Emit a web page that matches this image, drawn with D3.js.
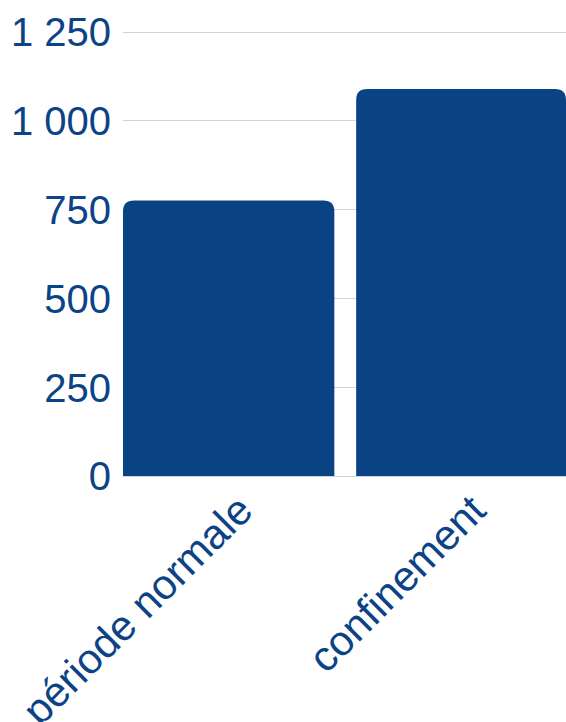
<!DOCTYPE html>
<html>
<head>
<meta charset="utf-8">
<script src="https://cdn.jsdelivr.net/npm/d3@7"></script>
<style>
  html, body { margin: 0; padding: 0; background: #ffffff; }
  svg { display: block; }
  text { font-family: "Liberation Sans", Arial, sans-serif; fill: #0b4386; }
</style>
</head>
<body>
<svg id="chart" width="566" height="722"></svg>
<script>
const categories = ["période normale", "confinement"];
const values = [775, 1088];
const yTicks = [0, 250, 500, 750, 1000, 1250];

const W = 566, H = 722;
const margin = { left: 123, right: 0, top: 31.5, bottom: 246 };
const svg = d3.select("#chart");

const x = d3.scaleBand().domain(categories)
  .range([margin.left, W - margin.right])
  .paddingInner(0.1).paddingOuter(0);
const y = d3.scaleLinear().domain([0, 1250]).range([H - margin.bottom, margin.top]);

// gridlines
svg.append("g").selectAll("line").data(yTicks).join("line")
  .attr("x1", margin.left).attr("x2", W)
  .attr("y1", d => Math.round(y(d)) + 0.5).attr("y2", d => Math.round(y(d)) + 0.5)
  .attr("stroke", "#ccd6e3").attr("stroke-width", 1.2);

// y labels
svg.append("g").selectAll("text").data(yTicks).join("text")
  .attr("x", 111).attr("y", d => y(d))
  .attr("dy", "0.36em")
  .attr("text-anchor", "end")
  .attr("font-size", 40)
  .text(d => d >= 1000 ? Math.floor(d/1000) + " " + String(d % 1000).padStart(3, "0") : String(d));

// bars with rounded top corners
const r = 11;
function barPath(x0, w, yTop, yBase) {
  return `M${x0},${yBase} L${x0},${yTop + r} Q${x0},${yTop} ${x0 + r},${yTop} L${x0 + w - r},${yTop} Q${x0 + w},${yTop} ${x0 + w},${yTop + r} L${x0 + w},${yBase} Z`;
}
svg.append("g").selectAll("path").data(categories).join("path")
  .attr("d", (c, i) => barPath(x(c), x.bandwidth() + (i === 0 ? 1.5 : 0) , y(values[i]), y(0)))
  .attr("fill", "#0a4384");

// x axis line
svg.append("line")
  .attr("x1", margin.left).attr("x2", W)
  .attr("y1", y(0) + 0.5).attr("y2", y(0) + 0.5)
  .attr("stroke", "#ccd6e3").attr("stroke-width", 1.2);

// x labels rotated
svg.append("g").selectAll("text").data(categories).join("text")
  .attr("transform", c => `translate(${x(c) + x.bandwidth() / 2 + 27},${y(0) + 37}) rotate(-45)`)
  .attr("text-anchor", "end")
  .attr("font-size", 42)
  .text(c => c);
</script>
</body>
</html>
